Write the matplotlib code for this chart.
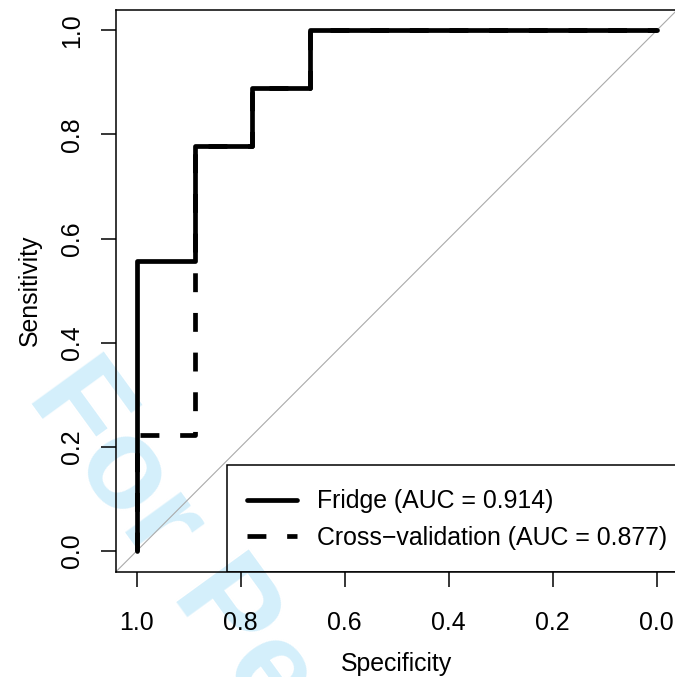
import matplotlib
matplotlib.use('Agg')
import matplotlib.pyplot as plt
from matplotlib.patches import Rectangle

# ROC curves (specificity on a reversed x axis, sensitivity on y)
fridge_spec = [1.0, 1.0, 0.889, 0.889, 0.778, 0.778, 0.667, 0.667, 0.0]
fridge_sens = [0.0, 0.556, 0.556, 0.778, 0.778, 0.889, 0.889, 1.0, 1.0]
cv_spec = [1.0, 1.0, 0.889, 0.889, 0.778, 0.778, 0.667, 0.667, 0.0]
cv_sens = [0.0, 0.222, 0.222, 0.778, 0.778, 0.889, 0.889, 1.0, 1.0]
labels = ['Fridge (AUC = 0.914)', 'Cross\u2212validation (AUC = 0.877)']
ticks = [0.0, 0.2, 0.4, 0.6, 0.8, 1.0]

plt.rcParams['font.family'] = ['Liberation Sans', 'DejaVu Sans']
W, H = 675, 677
FS = 17.9
fig = plt.figure(figsize=(W / 100, H / 100), dpi=100)

# watermark behind the plot
fig.text(26 / W, 1 - 396 / H, 'For Peer Review', fontsize=93.5, fontweight='bold',
         color='#d4effb', rotation=-54, rotation_mode='anchor',
         ha='left', va='baseline', zorder=-1)

ax = fig.add_axes([116 / W, 1 - 571.7 / H, 561.6 / W, 562.2 / H])
ax.patch.set_alpha(0)
ax.set_xlim(1.04, -0.04)
ax.set_ylim(-0.04, 1.04)

ax.axline((1, 0), (0, 1), color='#aaaaaa', lw=0.8, zorder=1)
ax.plot(cv_spec, cv_sens, color='black', lw=3.4, dashes=(4, 4.4),
        dash_capstyle='butt', label=labels[1], zorder=2)
ax.plot(fridge_spec, fridge_sens, color='black', lw=3.4,
        solid_capstyle='round', label=labels[0], zorder=3)

for s in ax.spines.values():
    s.set_linewidth(1.1)

ax.set_xticks(ticks)
ax.set_xticklabels(['%.1f' % t for t in ticks])
ax.set_yticks(ticks)
ax.set_yticklabels(['%.1f' % t for t in ticks], rotation=90, va='center')
ax.tick_params(length=10.8, width=1.1, labelsize=FS)
ax.tick_params(axis='x', pad=17.5)
ax.tick_params(axis='y', pad=12)

fig.text(397 / W, 1 - 670.5 / H, 'Specificity', fontsize=FS,
         ha='center', va='baseline')
fig.text(37 / W, 1 - 290 / H, 'Sensitivity', fontsize=FS, rotation=90,
         rotation_mode='anchor', ha='center', va='baseline')

# legend box in the lower right, R style
ax.add_patch(Rectangle((0.1977, 0), 0.8023, 0.1898, transform=ax.transAxes,
                       fill=False, edgecolor='black', lw=1.1, zorder=4))
h, l = ax.get_legend_handles_labels()
ax.legend(h[::-1], l[::-1], loc='center left', bbox_to_anchor=(0.2333, 0.0929),
          borderaxespad=0, borderpad=0, fontsize=FS, frameon=False,
          handlelength=2.0, handletextpad=0.8, labelspacing=0.5)

fig.savefig('out.png', dpi=100)
